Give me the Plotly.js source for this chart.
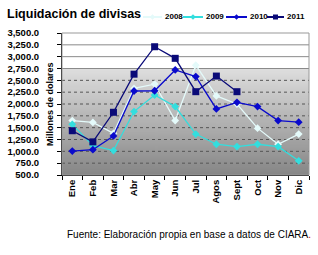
<!DOCTYPE html>
<html><head><meta charset="utf-8">
<script src="https://cdn.plot.ly/plotly-3.0.1.min.js"></script>
<style>html,body{margin:0;padding:0;background:#fff}#chart{width:318px;height:255px}</style>
</head><body><div id="chart"></div>
<script>
const months = ["Ene","Feb","Mar","Abr","May","Jun","Jul","Agos","Sept","Oct","Nov","Dic"];
const y2008 = [1650,1610,1380,2330,2420,1650,2820,2170,2000,1490,1150,1365];
const y2009 = [1570,1120,1015,1840,2190,1945,1365,1150,1100,1150,1100,800];
const y2010 = [1005,1035,1325,2275,2280,2720,2580,1895,2035,1945,1650,1615];
const y2011 = [1435,1200,1825,2630,3210,2965,2260,2590,2260];
const seriesNames = ["2008","2009","2010","2011"];
const yTicks = [500,750,1000,1250,1500,1750,2000,2250,2500,2750,3000,3250,3500];

const M = {l:62, r:9, t:33, b:80}, W = 318, H = 255;
const PW = W - M.l - M.r, PH = H - M.t - M.b;
const px = x => (x - M.l) / PW;
const py = y => (H - M.b - y) / PH;

// gradient background image
const cv = document.createElement('canvas'); cv.width = 4; cv.height = 200;
const ctx = cv.getContext('2d');
const g = ctx.createLinearGradient(0,0,0,200);
g.addColorStop(0,'#dedede'); g.addColorStop(1,'#868686');
ctx.fillStyle = g; ctx.fillRect(0,0,4,200);
const bg = cv.toDataURL();

const colors = ['#e4fafa','#33dede','#0a0acc','#0a0a78'];
const symbols = ['diamond','diamond','diamond','square'];
const tf = {family:'Liberation Sans, Arial, sans-serif', size:9.5, color:'#000', weight:'bold'};
const mk = (i, y, size) => ({
  type:'scatter', mode:'lines+markers', name:seriesNames[i], x: months.slice(0,y.length), y,
  line:{color:colors[i], width:1.3}, marker:{color:colors[i], symbol:symbols[i], size}
});
const data = [mk(0,y2008,6), mk(1,y2009,6), mk(2,y2010,6), mk(3,y2011,7)];

const shapes = [];
yTicks.forEach(v => {
  if (v > 500 && v < 3500) shapes.push({type:'line', xref:'paper', yref:'y', x0:0, x1:1, y0:v, y1:v, layer:'below',
    line: v >= 2750 ? {color:'#8a8a8a', width:1} : {color:'#555', width:1, dash:'dot'}});
});
shapes.push({type:'rect', xref:'paper', yref:'paper', x0:0, x1:1, y0:0, y1:1, line:{color:'#999', width:1}, layer:'above'});

// custom compact legend
const annotations = [];
const legX = [[143,163],[183,204],[226,248],[267,285]];
const ly = 17;
legX.forEach(([x0,tx],i) => {
  const x1 = tx - 1, cx = (x0 + x1)/2;
  shapes.push({type:'line', xref:'paper', yref:'paper', x0:px(x0), x1:px(x1), y0:py(ly), y1:py(ly), line:{color:colors[i], width:2}});
  if (symbols[i] === 'square') {
    shapes.push({type:'rect', xref:'paper', yref:'paper', x0:px(cx-2.5), x1:px(cx+2.5), y0:py(ly-2.5), y1:py(ly+2.5), fillcolor:colors[i], line:{width:0}});
  } else {
    const d = 2.8;
    shapes.push({type:'path', xref:'paper', yref:'paper',
      path:`M ${px(cx)} ${py(ly-d)} L ${px(cx+d)} ${py(ly)} L ${px(cx)} ${py(ly+d)} L ${px(cx-d)} ${py(ly)} Z`,
      fillcolor:colors[i], line:{width:0}});
  }
  annotations.push({text:seriesNames[i], xref:'paper', yref:'paper', x:px(tx), y:py(ly), xanchor:'left', yanchor:'middle', showarrow:false,
    font:{family:'Liberation Sans, Arial', size:8, color:'#000', weight:'bold'}});
});

annotations.push(
  {text:'Liquidación de divisas', xref:'paper', yref:'paper', x:px(5), y:py(14), xanchor:'left', yanchor:'middle', showarrow:false,
    font:{family:'Liberation Sans, Arial', size:12.5, color:'#000', weight:'bold'}},
  {text:'Millones de dolares', textangle:-90, xref:'paper', yref:'paper', x:px(50), y:0.5, xanchor:'center', yanchor:'middle', showarrow:false,
    font:{family:'Liberation Sans, Arial', size:9, color:'#000', weight:'bold'}},
  {text:'Fuente: Elaboración propia en base a datos de CIARA<span style="color:#d00">.</span>', xref:'paper', yref:'paper', x:px(313), y:py(235), xanchor:'right', yanchor:'middle', showarrow:false,
    font:{family:'Liberation Sans, Arial', size:10, color:'#000'}}
);

const layout = {
  width:W, height:H, margin:M,
  paper_bgcolor:'#fff', plot_bgcolor:'#fff',
  showlegend:false,
  xaxis:{type:'category', categoryarray:months, tickson:'boundaries', ticks:'outside', ticklen:4, tickcolor:'#000',
    showgrid:false, showline:true, linecolor:'#000', tickangle:-90, tickfont:tf, range:[-0.5,11.5]},
  yaxis:{range:[500,3500], tickvals:yTicks, tickformat:',.1f', ticks:'outside', ticklen:4, tickcolor:'#000',
    showgrid:false, showline:true, linecolor:'#000', tickfont:tf, ticklabelstandoff:16, zeroline:false},
  images:[{source:bg, xref:'paper', yref:'y', x:0, y:2750, sizex:1, sizey:2250, sizing:'stretch', xanchor:'left', yanchor:'top', layer:'below'}],
  shapes, annotations
};
Plotly.newPlot('chart', data, layout, {displayModeBar:false, staticPlot:true});
</script></body></html>
